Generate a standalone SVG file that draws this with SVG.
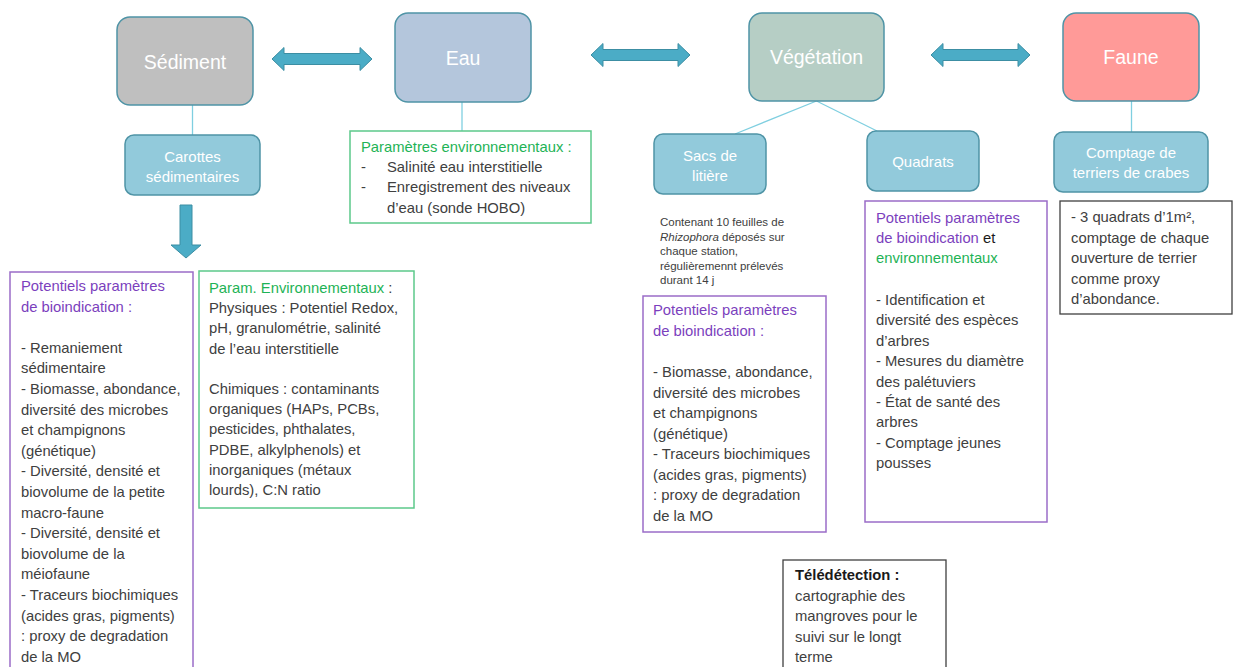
<svg xmlns="http://www.w3.org/2000/svg" width="1233" height="667" viewBox="0 0 1233 667">
<style>
text{font-family:"Liberation Sans",Arial,sans-serif;}
.main{stroke:#4f94a6;stroke-width:1.5;}
.sub{fill:#92cadb;stroke:#4f94a6;stroke-width:1.5;}
.ttl{fill:#ffffff;font-size:19.5px;text-anchor:middle;}
.stl{fill:#ffffff;font-size:15px;text-anchor:middle;}
.body{fill:#404040;font-size:14.8px;}
.small{fill:#404040;font-size:11.5px;}
.pbox{fill:#ffffff;stroke:#9a6cc8;stroke-width:1.5;}
.gbox{fill:#ffffff;stroke:#5cc98a;stroke-width:1.5;}
.kbox{fill:#ffffff;stroke:#404040;stroke-width:1.3;}
.pur{fill:#7b3fbd;}
.grn{fill:#1eb356;}
.blk{fill:#1a1a1a;}
.link{stroke:#7fcfe0;stroke-width:1.3;fill:none;}
.arr{fill:#4bacc6;stroke:#3c8ea3;stroke-width:1;}
</style>
<rect width="1233" height="667" fill="#ffffff"/>
<g id="connectors">
<line class="link" x1="192.5" y1="105" x2="192.5" y2="135"/>
<line class="link" x1="462" y1="102" x2="462" y2="131"/>
<line class="link" x1="816.5" y1="101" x2="735" y2="134"/>
<line class="link" x1="816.5" y1="101" x2="877" y2="131"/>
<line class="link" x1="1131.5" y1="101" x2="1131.5" y2="132"/>
<path class="arr" d="M272,59 L284,47.5 L284,53.5 L360,53.5 L360,47.5 L372,59 L360,70.5 L360,64.5 L284,64.5 L284,70.5 Z"/>
<path class="arr" d="M591,55 L603,43.5 L603,49.5 L678,49.5 L678,43.5 L690,55 L678,66.5 L678,60.5 L603,60.5 L603,66.5 Z"/>
<path class="arr" d="M931,55 L943,43.5 L943,49.5 L1018,49.5 L1018,43.5 L1030,55 L1018,66.5 L1018,60.5 L943,60.5 L943,66.5 Z"/>
<path class="arr" d="M180,205 L192,205 L192,245 L201,245 L186,258 L171,245 L180,245 Z"/>
</g>
<g id="sediment">
<rect class="main" x="117" y="17" width="136" height="88" rx="13" fill="#bfbfbf"/>
<text class="ttl" x="185" y="69">Sédiment</text>
</g>
<g id="eau">
<rect class="main" x="395" y="13" width="136" height="89" rx="13" fill="#b4c6dc"/>
<text class="ttl" x="463" y="65">Eau</text>
</g>
<g id="vegetation">
<rect class="main" x="749" y="13" width="135" height="88" rx="13" fill="#b6cec5"/>
<text class="ttl" x="816.5" y="64">Végétation</text>
</g>
<g id="faune">
<rect class="main" x="1063" y="13" width="136" height="88" rx="13" fill="#ff9a98"/>
<text class="ttl" x="1131" y="64">Faune</text>
</g>
<g id="carottes">
<rect class="sub" x="125" y="135" width="135" height="60" rx="9"/>
<text class="stl" x="192.5" y="162">Carottes</text>
<text class="stl" x="192.5" y="182">sédimentaires</text>
</g>
<g id="sacs">
<rect class="sub" x="654" y="134" width="112" height="60" rx="9"/>
<text class="stl" x="710" y="161">Sacs de</text>
<text class="stl" x="710" y="181">litière</text>
</g>
<g id="quadrats">
<rect class="sub" x="867" y="131" width="112" height="60" rx="9"/>
<text class="stl" x="923" y="167">Quadrats</text>
</g>
<g id="comptage">
<rect class="sub" x="1054" y="132" width="154" height="60" rx="9"/>
<text class="stl" x="1131" y="158">Comptage de</text>
<text class="stl" x="1131" y="178">terriers de crabes</text>
</g>
<g id="eau-params">
<rect class="gbox" x="350" y="131" width="241" height="92"/>
<text class="body grn" x="361" y="152">Paramètres environnementaux :</text>
<text class="body" x="361" y="172">-</text>
<text class="body" x="387" y="172">Salinité eau interstitielle</text>
<text class="body" x="361" y="192">-</text>
<text class="body" x="387" y="192">Enregistrement des niveaux</text>
<text class="body" x="387" y="213">d’eau (sonde HOBO)</text>
</g>
<g id="sediment-bio">
<rect class="pbox" x="10" y="272" width="183" height="400"/>
<text class="body pur" x="21" y="291">Potentiels paramètres</text>
<text class="body pur" x="21" y="311.6">de bioindication :</text>
<text class="body" x="21" y="352.8">- Remaniement</text>
<text class="body" x="21" y="373.4">sédimentaire</text>
<text class="body" x="21" y="394">- Biomasse, abondance,</text>
<text class="body" x="21" y="414.6">diversité des microbes</text>
<text class="body" x="21" y="435.2">et champignons</text>
<text class="body" x="21" y="455.8">(génétique)</text>
<text class="body" x="21" y="476.4">- Diversité, densité et</text>
<text class="body" x="21" y="497">biovolume de la petite</text>
<text class="body" x="21" y="517.6">macro-faune</text>
<text class="body" x="21" y="538.2">- Diversité, densité et</text>
<text class="body" x="21" y="558.8">biovolume de la</text>
<text class="body" x="21" y="579.4">méiofaune</text>
<text class="body" x="21" y="600">- Traceurs biochimiques</text>
<text class="body" x="21" y="620.6">(acides gras, pigments)</text>
<text class="body" x="21" y="641.2">: proxy de degradation</text>
<text class="body" x="21" y="661.8">de la MO</text>
</g>
<g id="sediment-env">
<rect class="gbox" x="199" y="271" width="215" height="237"/>
<text class="body" x="209" y="293"><tspan class="grn">Param. Environnementaux</tspan> :</text>
<text class="body" x="209" y="313.2">Physiques : Potentiel Redox,</text>
<text class="body" x="209" y="333.4">pH, granulométrie, salinité</text>
<text class="body" x="209" y="353.6">de l’eau interstitielle</text>
<text class="body" x="209" y="394">Chimiques : contaminants</text>
<text class="body" x="209" y="414.2">organiques (HAPs, PCBs,</text>
<text class="body" x="209" y="434.4">pesticides, phthalates,</text>
<text class="body" x="209" y="454.6">PDBE, alkylphenols) et</text>
<text class="body" x="209" y="474.8">inorganiques (métaux</text>
<text class="body" x="209" y="495">lourds), C:N ratio</text>
</g>
<g id="sacs-note">
<text class="small" x="660" y="226">Contenant 10 feuilles de</text>
<text class="small" x="660" y="240.5"><tspan font-style="italic">Rhizophora</tspan> déposés sur</text>
<text class="small" x="660" y="255">chaque station,</text>
<text class="small" x="660" y="269.5">régulièremennt prélevés</text>
<text class="small" x="660" y="284">durant 14 j</text>
</g>
<g id="sacs-bio">
<rect class="pbox" x="643" y="296" width="183" height="236"/>
<text class="body pur" x="653" y="315">Potentiels paramètres</text>
<text class="body pur" x="653" y="335.5">de bioindication :</text>
<text class="body" x="653" y="377">- Biomasse, abondance,</text>
<text class="body" x="653" y="397.5">diversité des microbes</text>
<text class="body" x="653" y="418">et champignons</text>
<text class="body" x="653" y="438.5">(génétique)</text>
<text class="body" x="653" y="459">- Traceurs biochimiques</text>
<text class="body" x="653" y="479.5">(acides gras, pigments)</text>
<text class="body" x="653" y="500">: proxy de degradation</text>
<text class="body" x="653" y="520.5">de la MO</text>
</g>
<g id="quadrats-params">
<rect class="pbox" x="865" y="201" width="182" height="321"/>
<text class="body pur" x="876" y="223">Potentiels paramètres</text>
<text class="body" x="876" y="243"><tspan class="pur">de bioindication</tspan><tspan class="blk"> et</tspan></text>
<text class="body grn" x="876" y="263">environnementaux</text>
<text class="body" x="876" y="305">- Identification et</text>
<text class="body" x="876" y="325.4">diversité des espèces</text>
<text class="body" x="876" y="345.8">d’arbres</text>
<text class="body" x="876" y="366.2">- Mesures du diamètre</text>
<text class="body" x="876" y="386.6">des palétuviers</text>
<text class="body" x="876" y="407">- État de santé des</text>
<text class="body" x="876" y="427.4">arbres</text>
<text class="body" x="876" y="447.8">- Comptage jeunes</text>
<text class="body" x="876" y="468.2">pousses</text>
</g>
<g id="faune-note">
<rect class="kbox" x="1060" y="201" width="172" height="113"/>
<text class="body" x="1071" y="222">- 3 quadrats d’1m²,</text>
<text class="body" x="1071" y="242.5">comptage de chaque</text>
<text class="body" x="1071" y="263">ouverture de terrier</text>
<text class="body" x="1071" y="283.5">comme proxy</text>
<text class="body" x="1071" y="304">d’abondance.</text>
</g>
<g id="teledetection">
<rect class="kbox" x="783" y="560" width="163" height="112"/>
<text class="body blk" x="795" y="580" font-weight="bold">Télédétection :</text>
<text class="body" x="795" y="600.5">cartographie des</text>
<text class="body" x="795" y="621">mangroves pour le</text>
<text class="body" x="795" y="641.5">suivi sur le longt</text>
<text class="body" x="795" y="662">terme</text>
</g>
</svg>
